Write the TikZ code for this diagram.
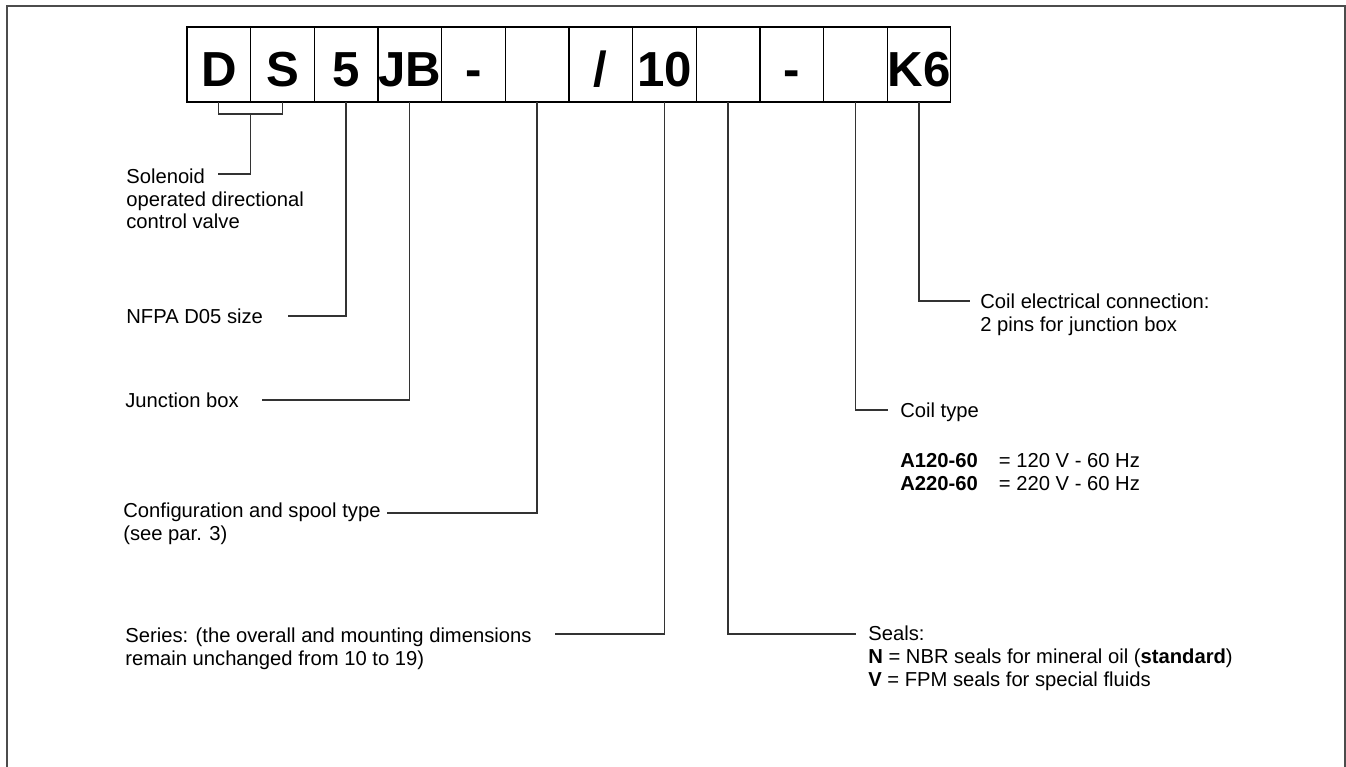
\documentclass[tikz,border=0pt]{standalone}
\usepackage{fontspec}
\setmainfont{Liberation Sans}
\usetikzlibrary{positioning}

\begin{document}
\begin{tikzpicture}[x=0.02cm,y=-0.02cm,
		cell/.style={draw,line width=0.7pt,minimum width=1.2734cm,minimum height=1.5cm,inner sep=0pt,outer sep=0pt,text height=0.9cm,text depth=0pt,font=\fontsize{28}{28}\selectfont\bfseries},
		lead/.style={draw=black!80,line width=0.75pt},
		lbl/.style={anchor=north west,align=left,inner sep=0pt,font=\fontsize{11.5}{12.9}\selectfont}]
		\useasboundingbox (0,0) rectangle (1346,767);
		\draw[black!70,line width=1.1pt] (7,767) -- (7,6) -- (1345,6) -- (1345,767);

		% code boxes
		\node[cell] (d) at (218.8,64.5) {D};
		\node[cell,right=0pt of d] (s) {S};
		\node[cell,right=0pt of s] (size) {5};
		\node[cell,right=0pt of size] (jb) {JB};
		\node[cell,right=0pt of jb] (dasha) {-};
		\node[cell,right=0pt of dasha] (spool) {};
		\node[cell,right=0pt of spool] (slash) {/};
		\node[cell,right=0pt of slash] (series) {10};
		\node[cell,right=0pt of series] (seals) {};
		\node[cell,right=0pt of seals] (dashb) {-};
		\node[cell,right=0pt of dashb] (coil) {};
		\node[cell,right=0pt of coil] (conn) {K6};

		\node[lbl] (soltxt) at (126,168.5) {Solenoid\\operated directional\\control valve};
		\node[lbl] (sizetxt) at (126,308.5) {NFPA D05 size};
		\node[lbl] (jbtxt) at (125,392.5) {Junction box};
		\node[lbl] (spooltxt) at (123,503) {Configuration and spool type\\(see par. 3)};
		\node[lbl] (seriestxt) at (125,627.5) {Series: (the overall and mounting dimensions\\remain unchanged from 10 to 19)};
		\node[lbl] (sealstxt) at (868,626) {Seals:\\\textbf{N} = NBR seals for mineral oil (\textbf{standard})\\\textbf{V} = FPM seals for special fluids};
		\node[lbl] (coiltxt) at (900,402.5) {Coil type};
		\node[lbl] (volts) at (900,451.3) {\begin{tabular}{@{}l@{\hspace{12pt}}l@{}}
			\textbf{A120-60} & = 120 V - 60 Hz\\
			\textbf{A220-60} & = 220 V - 60 Hz
		\end{tabular}};
		\node[lbl] (conntxt) at (980,293.5) {Coil electrical connection:\\2 pins for junction box};

		\coordinate (ds) at (250.6,114);
		\coordinate (solend) at (218,174);
		\coordinate (sizeend) at (288,316);
		\coordinate (jbend) at (262,400);
		\coordinate (spoolend) at (387,513);
		\coordinate (seriesend) at (555,634);
		\coordinate (sealsend) at (856,634);
		\coordinate (coilend) at (888,410);
		\coordinate (connend) at (970,301);

		\draw[lead] (d.south) |- (ds) -| (s.south);
		\draw[lead] (ds) |- (solend);
		\draw[lead] (size.south) |- (sizeend);
		\draw[lead] (jb.south) |- (jbend);
		\draw[lead] (spool.south) |- (spoolend);
		\draw[lead] (series.south) |- (seriesend);
		\draw[lead] (seals.south) |- (sealsend);
		\draw[lead] (coil.south) |- (coilend);
		\draw[lead] (conn.south) |- (connend);
	\end{tikzpicture}
\end{document}
